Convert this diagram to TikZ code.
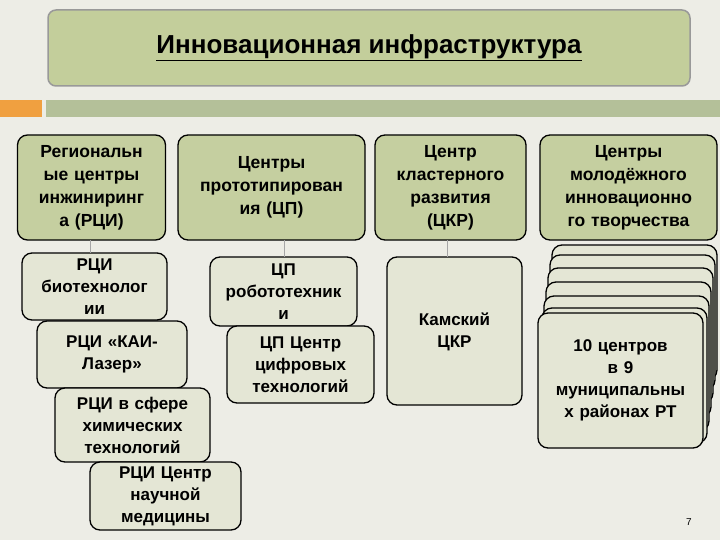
\documentclass[tikz,border=0pt]{standalone}
\usepackage{fontspec}
\setmainfont{Liberation Sans}
\begin{document}
\begin{tikzpicture}[x=1pt,y=-1pt,
 top/.style={draw=black,line width=1.3pt,fill=topc,rounded corners=10pt,align=center,inner sep=1pt,font=\bfseries\fontsize{17.5}{23}\selectfont},
 sub/.style={draw=black,line width=1.3pt,fill=subc,rounded corners=10pt,align=center,inner sep=1pt,font=\bfseries\fontsize{17}{22}\selectfont},
 conn/.style={draw=gray!70,line width=0.7pt}]
\definecolor{bgc}{HTML}{EDEDE6}
\definecolor{topc}{HTML}{C5CFA0}
\definecolor{subc}{HTML}{E4E6D5}
\definecolor{titc}{HTML}{C3CE9B}
\definecolor{barc}{HTML}{B4C099}
\definecolor{orc}{HTML}{F0A040}
\fill[bgc] (0,0) rectangle (720,540);
\useasboundingbox (0,0) rectangle (720,540);
\node[draw=gray!80,line width=1.5pt,fill=titc,rounded corners=8pt,minimum width=642pt,minimum height=76pt,font=\bfseries\fontsize{26}{30}\selectfont] (title) at (369,48) {\underline{Инновационная инфраструктура}};
\fill[orc] (0,100) rectangle (42,117);
\fill[barc] (46,100) rectangle (720,117);
% top row
\node[top,minimum width=147pt,minimum height=105pt,text width=146pt] (t1) at (91.5,187.5) {Региональн\\ые центры\\инжиниринг\\а (РЦИ)};
\node[top,minimum width=187pt,minimum height=105pt,text width=185pt] (t2) at (271.5,187.5) {Центры\\прототипирован\\ия (ЦП)};
\node[top,minimum width=151pt,minimum height=105pt,text width=149pt] (t3) at (450.5,187.5) {Центр\\кластерного\\развития\\(ЦКР)};
\node[top,minimum width=177pt,minimum height=105pt,text width=175pt] (t4) at (628.5,187.5) {Центры\\молодёжного\\инновационно\\го творчества};
% lower left
\node[sub,minimum width=145pt,minimum height=67pt,text width=143pt] (b1) at (94.5,286.5) {РЦИ\\биотехнолог\\ии};
\node[sub,minimum width=150pt,minimum height=67pt,text width=148pt] (b2) at (112,354.5) {РЦИ «КАИ-\\Лазер»};
\node[sub,minimum width=155pt,minimum height=74pt,text width=153pt] (b3) at (132.5,425) {РЦИ в сфере\\химических\\технологий};
\node[sub,minimum width=151pt,minimum height=68pt,text width=149pt] (b4) at (165.5,496) {РЦИ Центр\\научной\\медицины};
\node[sub,minimum width=147pt,minimum height=69pt,text width=145pt] (c1) at (283.5,291.5) {ЦП\\робототехник\\и};
\node[sub,minimum width=147pt,minimum height=77pt,text width=145pt] (c2) at (300.5,364.5) {ЦП Центр\\цифровых\\технологий};
\node[sub,minimum width=135pt,minimum height=148pt] (k) at (454.5,331) {};
\node[align=center,font=\bfseries\fontsize{17}{22}\selectfont] (kt) at (454.5,332) {Камский\\ЦКР};
% stack
\foreach \dx/\yo in {14/245,12/255,10/268,8/282,6/296,4/308}{
 \draw[draw=black,line width=1.3pt,fill=subc,rounded corners=10pt] (538+\dx,\yo) rectangle (703+\dx,\yo+135);
}
\node[sub,minimum width=165pt,minimum height=135pt,text width=163pt] (s) at (620.5,380.5) {10 центров\\в 9\\муниципальны\\х районах РТ};
\draw[conn] (90,240) -- (90,253);
\draw[conn] (284,240) -- (284,257);
\draw[conn] (447,240) -- (447,257);
\node[font=\fontsize{10}{12}\selectfont] (pn) at (689,522) {7};
\end{tikzpicture}
\end{document}
